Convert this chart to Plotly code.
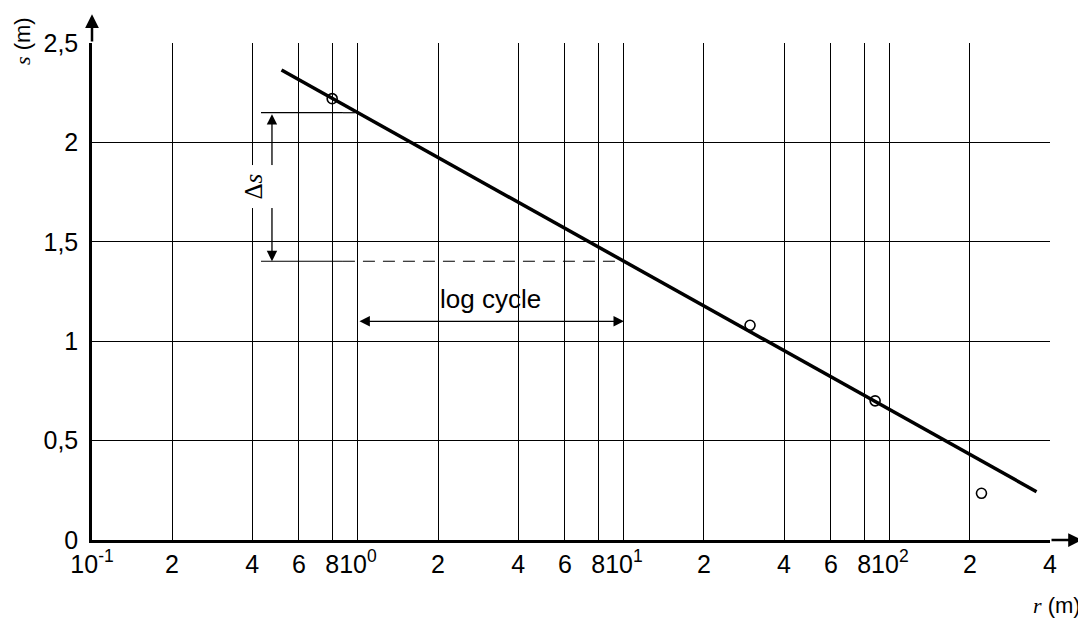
import numpy as np
import plotly.graph_objects as go

# ---- data ----
r_obs = [0.80, 29.8, 88, 221]          # m
s_obs = [2.22, 1.08, 0.70, 0.235]      # m
line_r = [0.516, 356]                  # fitted straight line end points
line_s = [2.364, 0.243]

x_tickvals = [0.1, 0.2, 0.4, 0.6, 0.8, 1, 2, 4, 6, 8, 10, 20, 40, 60, 80, 100, 200, 400]
x_ticktext = ["10<sup>-1</sup>", "2", "4", "6", "8", "10<sup>0</sup>", "2", "4", "6", "8",
              "10<sup>1</sup>", "2", "4", "6", "8", "10<sup>2</sup>", "2", "4"]
y_tickvals = [0, 0.5, 1, 1.5, 2, 2.5]
y_ticktext = ["0", "0,5", "1", "1,5", "2", "2,5"]

# construction helpers (annotation geometry)
cycle_r = [1, 10]          # one log cycle
guide_r_start = 0.432      # start of horizontal guide lines
guide_r_dash = 0.878       # where guide lines become dashed
ds_arrow_r = 0.475         # position of the Δs dimension arrow
ds_label_r = 0.405
cycle_arrow_s = 1.10
cycle_label_s = 1.21

FONT = "Liberation Sans, Arial, sans-serif"
SERIF = "Liberation Serif, Times New Roman, serif"
FS = 25

X_MIN, X_MAX = 0.1, 400
Y_MIN, Y_MAX = 0, 2.5

# s on fitted line at r = 1 and r = 10
lg_line = np.log10(line_r)
s_at = [float(np.interp(np.log10(r), lg_line, line_s)) for r in cycle_r]

fig = go.Figure()

# guide lines: solid part + dashed part
for s_val, r_end in zip(s_at, cycle_r):
    fig.add_trace(go.Scatter(x=[guide_r_start, guide_r_dash], y=[s_val, s_val], mode="lines",
                             line=dict(color="black", width=1.2), hoverinfo="skip", showlegend=False))
    fig.add_trace(go.Scatter(x=[guide_r_dash, r_end], y=[s_val, s_val], mode="lines",
                             line=dict(color="black", width=1.2, dash="12px,8px"),
                             hoverinfo="skip", showlegend=False))

# fitted line
fig.add_trace(go.Scatter(x=line_r, y=line_s, mode="lines",
                         line=dict(color="black", width=3.5), hoverinfo="skip", showlegend=False))
# observations
fig.add_trace(go.Scatter(x=r_obs, y=s_obs, mode="markers",
                         marker=dict(symbol="circle-open", size=10, color="black",
                                     line=dict(color="black", width=1.6)),
                         showlegend=False))

annotations = []
# Δs dimension arrow
annotations.append(dict(x=np.log10(ds_arrow_r), y=s_at[1], ax=np.log10(ds_arrow_r), ay=s_at[0],
                        xref="x", yref="y", axref="x", ayref="y", text="", showarrow=True,
                        arrowhead=2, arrowsize=1.6, arrowwidth=1.3, arrowside="end+start",
                        arrowcolor="black", standoff=0, startstandoff=0))
annotations.append(dict(x=np.log10(ds_label_r), y=(s_at[0] + s_at[1]) / 2, xref="x", yref="y",
                        text="Δ<i>s</i>", textangle=-90, showarrow=False, bgcolor="white",
                        borderpad=8, font=dict(family=SERIF, size=FS, color="black")))
# log cycle arrow
annotations.append(dict(x=np.log10(cycle_r[1]), y=cycle_arrow_s, ax=np.log10(cycle_r[0]),
                        ay=cycle_arrow_s, xref="x", yref="y", axref="x", ayref="y", text="",
                        showarrow=True, arrowhead=2, arrowsize=1.6, arrowwidth=1.3,
                        arrowside="end+start", arrowcolor="black", standoff=0, startstandoff=0))
annotations.append(dict(x=np.mean(np.log10(cycle_r)), y=cycle_label_s, xref="x", yref="y",
                        text="log cycle", showarrow=False,
                        font=dict(family=FONT, size=FS + 1, color="black")))
# axis arrows (extend the axes beyond the plotting area)
annotations.append(dict(x=np.log10(X_MIN), y=Y_MAX + 0.145, ax=np.log10(X_MIN), ay=Y_MAX,
                        xref="x", yref="y", axref="x", ayref="y", text="",
                        showarrow=True, arrowhead=2, arrowsize=1.1, arrowwidth=2.5,
                        arrowcolor="black", standoff=0))
annotations.append(dict(x=np.log10(X_MAX) + 0.12, y=Y_MIN, ax=np.log10(X_MAX), ay=Y_MIN,
                        xref="x", yref="y", axref="x", ayref="y", text="",
                        showarrow=True, arrowhead=2, arrowsize=1.1, arrowwidth=2.5,
                        arrowcolor="black", standoff=0))
# axis titles
annotations.append(dict(x=-0.0731, y=1.004, xref="paper", yref="paper", textangle=-90,
                        xanchor="center", yanchor="middle",
                        text="<span style='font-family:Liberation Serif'><i>s</i></span> (m)",
                        showarrow=False, font=dict(family=FONT, size=22, color="black")))
annotations.append(dict(x=1.0073, y=-0.131, xref="paper", yref="paper",
                        xanchor="center", yanchor="middle",
                        text="<span style='font-family:Liberation Serif'><i>r</i></span> (m)",
                        showarrow=False, font=dict(family=FONT, size=22, color="black")))

# the page body has an 8px margin, so the figure is 8px smaller and margins shifted
fig.update_layout(
    width=1078, height=615,
    margin=dict(l=84, r=36, t=35, b=83, autoexpand=False),
    paper_bgcolor="white", plot_bgcolor="white",
    font=dict(family=FONT, size=FS, color="black"),
    annotations=annotations,
    xaxis=dict(type="log", range=[np.log10(X_MIN), np.log10(X_MAX)], tickvals=x_tickvals,
               ticktext=x_ticktext, automargin=False,
               tickangle=0, showgrid=True, gridcolor="black", gridwidth=1.2, zeroline=False,
               showline=True, linecolor="black", linewidth=2.5, ticks="",
               tickfont=dict(family=FONT, size=FS, color="black")),
    yaxis=dict(range=[Y_MIN, Y_MAX], tickvals=y_tickvals, ticktext=y_ticktext, automargin=False,
               showgrid=True, gridcolor="black", gridwidth=1.2, zeroline=False,
               showline=True, linecolor="black", linewidth=2.5, ticks="", ticklabelstandoff=6,
               tickfont=dict(family=FONT, size=FS, color="black")),
)

fig.write_html("out.html")
